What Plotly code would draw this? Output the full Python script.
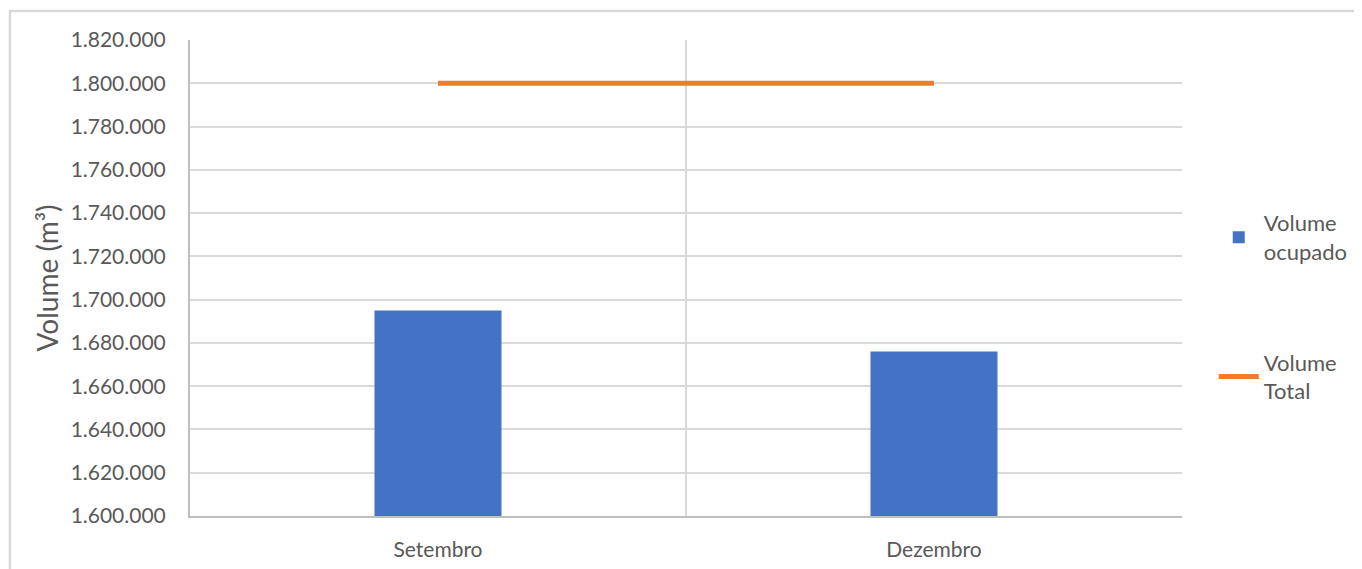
import plotly.graph_objects as go

categories = ["Setembro", "Dezembro"]
volume_ocupado = [1695000, 1676000]
volume_total = [1800000, 1800000]
y_min, y_max, y_step = 1600000, 1820000, 20000

FONT = "Lato"
GRAY = "#595959"

fig = go.Figure()
fig.add_trace(go.Bar(
    x=categories, y=volume_ocupado, name="Volume<br>ocupado",
    marker=dict(color="#4472C4", line=dict(width=0)), width=0.256,
    legend="legend", showlegend=True,
))
fig.add_trace(go.Scatter(
    x=categories, y=volume_total, name="Volume<br>Total", mode="lines",
    line=dict(color="#ED7D31", width=5), legend="legend2", showlegend=True,
))

# outer chart frame (top and left edges visible)
fig.add_shape(type="path", xref="paper", yref="paper",
              path="M -0.1815,-0.3 L -0.1815,1.0609 L 1.3,1.0609",
              line=dict(color="#d9d9d9", width=2.5), layer="below")

fig.update_layout(
    width=1362, height=569,
    margin=dict(l=182, r=188, t=32, b=61),
    paper_bgcolor="white", plot_bgcolor="white",
    separators=",.",
    showlegend=True,
    font=dict(family=FONT, size=21, color=GRAY),
    barmode="overlay",
    legend=dict(x=1.032, y=0.585, xanchor="left", yanchor="middle",
                font=dict(family=FONT, size=22, color=GRAY),
                bgcolor="rgba(0,0,0,0)", itemwidth=40),
    legend2=dict(x=1.032, y=0.292, xanchor="left", yanchor="middle",
                 font=dict(family=FONT, size=22, color=GRAY),
                 bgcolor="rgba(0,0,0,0)", itemwidth=40),
    xaxis=dict(
        type="category", tickson="boundaries", showgrid=True,
        gridcolor="#d9d9d9", gridwidth=1.5, ticks="", ticklen=0,
        showline=True, linecolor="#bfbfbf", linewidth=2,
        tickfont=dict(family=FONT, size=21, color=GRAY),
        ticklabelstandoff=14, range=[-0.5, 1.5],
    ),
    yaxis=dict(
        range=[y_min, y_max], dtick=y_step, tick0=y_min,
        tickformat=",d", showgrid=True, gridcolor="#d9d9d9", gridwidth=1.5,
        showline=True, linecolor="#bfbfbf", linewidth=2, zeroline=False,
        tickfont=dict(family=FONT, size=21, color=GRAY),
        ticklabelstandoff=18,
        title=dict(text="Volume (m³)", font=dict(family=FONT, size=28, color=GRAY),
                   standoff=4),
    ),
)

fig.write_html("out.html")
